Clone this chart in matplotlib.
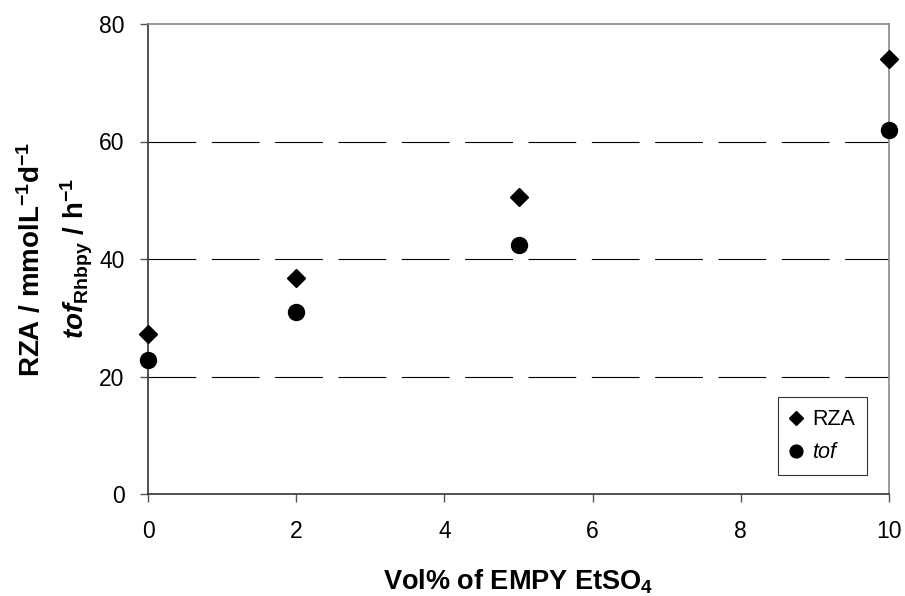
import matplotlib
matplotlib.use("Agg")
import matplotlib.pyplot as plt

# data
vol_pct = [0, 2, 5, 10]
rza = [27.2, 36.8, 50.6, 74.0]
tof = [22.8, 31.0, 42.3, 62.0]

x_ticks = [0, 2, 4, 6, 8, 10]
y_ticks = [0, 20, 40, 60, 80]
grid_levels = [20, 40, 60]

plt.rcParams['font.family'] = ['Liberation Sans', 'DejaVu Sans']
plt.rcParams['mathtext.fontset'] = 'custom'
plt.rcParams['mathtext.rm'] = 'Liberation Sans'
plt.rcParams['mathtext.bf'] = 'Liberation Sans:bold'
plt.rcParams['mathtext.it'] = 'Liberation Sans:italic'
plt.rcParams['mathtext.bfit'] = 'Liberation Sans:bold:italic'
plt.rcParams['mathtext.default'] = 'bf'

fig = plt.figure(figsize=(9.05, 5.96), dpi=100)
ax = fig.add_axes([148/905, 1 - 494/596, (889 - 148)/905, (494 - 24)/596])

# dashed horizontal grid
for g in grid_levels:
    ax.axhline(g, color='black', lw=0.8, dashes=(43, 14), zorder=1)

ax.plot(vol_pct, rza, ls='none', marker='D', ms=9.5, color='black',
        label='RZA', clip_on=False, zorder=3)
ax.plot(vol_pct, tof, ls='none', marker='o', ms=11.5, color='black',
        label=r'$\mathit{tof}$', clip_on=False, zorder=3)

ax.set_xlim(0, 10)
ax.set_ylim(0, 80)
ax.set_xticks(x_ticks)
ax.set_yticks(y_ticks)
ax.tick_params(direction='out', length=6, width=1, color='#555555',
               labelsize=16.5)
ax.tick_params(axis='y', pad=11)
ax.tick_params(axis='x', pad=13)

for side in ['left', 'bottom']:
    ax.spines[side].set_color('#333333')
    ax.spines[side].set_linewidth(1.2)
for side in ['top', 'right']:
    ax.spines[side].set_color('#888888')
    ax.spines[side].set_linewidth(1.2)

ax.set_xlabel('Vol% of EMPY EtSO$_4$', fontsize=19.5, fontweight='bold', labelpad=17)

# two-line y label
fig.text(40/905, 1 - 259/596, r'RZA / mmolL$^{-1}$d$^{-1}$', rotation=90,
         rotation_mode='anchor', fontsize=20, fontweight='bold',
         ha='center', va='baseline')
fig.text(84/905, 1 - 259/596, r'$\mathbfit{tof}_{Rhbpy}$ / h$^{-1}$', rotation=90,
         rotation_mode='anchor', fontsize=20, fontweight='bold',
         ha='center', va='baseline')

leg = ax.legend(loc='lower right', bbox_to_anchor=((867 - 148)/741, (494 - 475)/470),
                fontsize=15.5, frameon=True, fancybox=False, markerscale=0.8,
                handlelength=0.6, handletextpad=0.45, borderpad=0.55,
                labelspacing=0.55, borderaxespad=0)
leg.get_frame().set_edgecolor('black')
leg.get_frame().set_linewidth(0.8)

fig.savefig('out.png', dpi=100)
